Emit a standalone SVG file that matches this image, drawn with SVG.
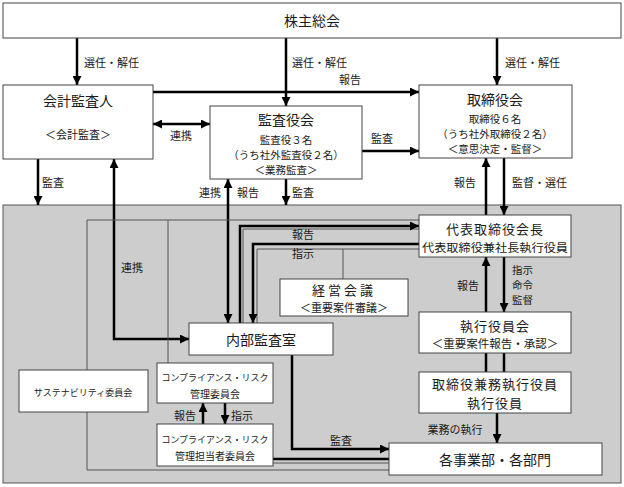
<svg xmlns="http://www.w3.org/2000/svg" width="624" height="487" viewBox="0 0 624 487">
<style>
text{font-family:"Noto Sans CJK JP","Noto Sans",sans-serif;fill:#1a1a1a;dominant-baseline:central}
.m{text-anchor:middle}
.s{text-anchor:start}
.t14{font-size:14px}
.t13{font-size:13px}
.t12{font-size:11.5px}
.t11{font-size:11px}
.t105{font-size:10.5px}
.t10{font-size:10px}
.t9{font-size:9px}
.box{fill:#fff;stroke:#444;stroke-width:1}
.thick{fill:none;stroke:#000;stroke-width:2.5}
.thin{fill:none;stroke:#555;stroke-width:1}
.a{marker-end:url(#ah)}
.b{marker-start:url(#ah);marker-end:url(#ah)}
</style>
<defs>
<marker id="ah" viewBox="0 0 10 10" refX="10" refY="5" markerWidth="9" markerHeight="9" markerUnits="userSpaceOnUse" orient="auto-start-reverse">
<path d="M0,0 L10,5 L0,10 z" fill="#000"/>
</marker>
</defs>
<rect x="3" y="205" width="618" height="278" fill="#cdcdcd" stroke="#555" stroke-width="1"/>
<g id="connectors">
<line class="thick a" x1="77" y1="38" x2="77" y2="85"/>
<line class="thick a" x1="286" y1="38" x2="286" y2="106"/>
<line class="thick a" x1="497" y1="38" x2="497" y2="85"/>
<line class="thick a" x1="153" y1="92" x2="419" y2="92"/>
<line class="thick b" x1="153" y1="124" x2="210" y2="124"/>
<line class="thick a" x1="362" y1="151" x2="419" y2="151"/>
<line class="thick a" x1="486" y1="215" x2="486" y2="158"/>
<line class="thick a" x1="504" y1="158" x2="504" y2="215"/>
<line class="thick a" x1="38" y1="159" x2="38" y2="205"/>
<line class="thick a" x1="286" y1="179" x2="286" y2="205"/>
<polyline class="thick b" points="114,159 114,339 189,339"/>
<line class="thick b" x1="228" y1="179" x2="228" y2="323"/>
<polyline class="thin" points="419,220 87,220 87,370"/>
<polyline class="thin" points="87,412 87,470 389,470"/>
<line class="thin" x1="168" y1="220" x2="168" y2="363"/>
<polyline class="thin" points="419,249 343,249 343,279"/>
<polyline class="thin" points="343,249 257,249 257,323"/>
<polyline class="thin" points="243,323 243,229 419,229"/>
<polyline class="thick a" points="240,323 240,226 419,226"/>
<polyline class="thick a" points="419,244 253,244 253,323"/>
<polyline class="thick a" points="292,355 292,449 389,449"/>
<line class="thick a" x1="486" y1="312" x2="486" y2="257"/>
<line class="thick a" x1="504" y1="257" x2="504" y2="312"/>
<line class="thick" x1="486" y1="353" x2="486" y2="372"/>
<line class="thick" x1="504" y1="353" x2="504" y2="372"/>
<line class="thick a" x1="497" y1="413" x2="497" y2="443"/>
<line class="thick a" x1="203" y1="424" x2="203" y2="403"/>
<line class="thick a" x1="225" y1="403" x2="225" y2="424"/>
<line class="thick" x1="273" y1="459" x2="389" y2="459"/>
<line class="thin" x1="273" y1="463" x2="389" y2="463"/>
</g>
<g id="labels">
<text class="s t11" x="84" y="62">選任・解任</text>
<text class="s t11" x="292" y="62">選任・解任</text>
<text class="s t11" x="505" y="62">選任・解任</text>
<text class="m t11" x="350" y="79">報告</text>
<text class="m t11" x="181" y="135">連携</text>
<text class="m t11" x="382" y="138">監査</text>
<text class="m t11" x="465" y="182">報告</text>
<text class="s t11" x="512" y="182">監督・選任</text>
<text class="m t11" x="53" y="182">監査</text>
<text class="m t11" x="210" y="192">連携</text>
<text class="m t11" x="248" y="192">報告</text>
<text class="m t11" x="303" y="192">監査</text>
<text class="m t11" x="132" y="267">連携</text>
<text class="m t11" x="303" y="234">報告</text>
<text class="m t11" x="303" y="253">指示</text>
<text class="m t11" x="468" y="285">報告</text>
<text class="s t105" x="512" y="269">指示</text>
<text class="s t105" x="512" y="284">命令</text>
<text class="s t105" x="512" y="299">監督</text>
<text class="m t11" x="455" y="429">業務の執行</text>
<text class="m t11" x="341" y="440">監査</text>
<text class="m t11" x="185" y="415">報告</text>
<text class="m t11" x="242" y="415">指示</text>
</g>
<g id="shareholders">
<rect class="box" x="3" y="3" width="618" height="35"/>
<text class="m t14" x="312" y="20">株主総会</text>
</g>
<g id="auditor">
<rect class="box" x="3" y="85" width="150" height="74"/>
<text class="m t14" x="78" y="100">会計監査人</text>
<text class="m t11" x="78" y="134">＜会計監査＞</text>
</g>
<g id="audit-board">
<rect class="box" x="210" y="106" width="152" height="73"/>
<text class="m t14" x="286" y="119">監査役会</text>
<text class="m t105" x="286" y="139">監査役３名</text>
<text class="m t105" x="286" y="154">（うち社外監査役２名）</text>
<text class="m t105" x="286" y="169">＜業務監査＞</text>
</g>
<g id="board">
<rect class="box" x="419" y="85" width="153" height="73"/>
<text class="m t14" x="495" y="99">取締役会</text>
<text class="m t105" x="495" y="118">取締役６名</text>
<text class="m t105" x="495" y="133">（うち社外取締役２名）</text>
<text class="m t105" x="495" y="148">＜意思決定・監督＞</text>
</g>
<g id="chairman">
<rect class="box" x="419" y="215" width="152" height="42"/>
<text class="m t13" x="495" y="228" letter-spacing="1">代表取締役会長</text>
<text class="m t12" x="495" y="247" textLength="146" lengthAdjust="spacingAndGlyphs">代表取締役兼社長執行役員</text>
</g>
<g id="management-meeting">
<rect class="box" x="280" y="279" width="128" height="37"/>
<text class="m t13" x="344" y="289.5" letter-spacing="3">経営会議</text>
<text class="m t11" x="344" y="306.5">＜重要案件審議＞</text>
</g>
<g id="internal-audit">
<rect class="box" x="189" y="323" width="144" height="32"/>
<text class="m t14" x="261" y="339">内部監査室</text>
</g>
<g id="exec-committee">
<rect class="box" x="419" y="312" width="152" height="41"/>
<text class="m t13" x="495" y="325" letter-spacing="1">執行役員会</text>
<text class="m t12" x="495" y="343">＜重要案件報告・承認＞</text>
</g>
<g id="executives">
<rect class="box" x="419" y="372" width="152" height="41"/>
<text class="m t13" x="495" y="383" letter-spacing="1">取締役兼務執行役員</text>
<text class="m t13" x="495" y="402" letter-spacing="1">執行役員</text>
</g>
<g id="divisions">
<rect class="box" x="389" y="443" width="213" height="32"/>
<text class="m t14" x="495" y="459">各事業部・各部門</text>
</g>
<g id="sustainability">
<rect class="box" x="19" y="370" width="129" height="42"/>
<text class="m t9" x="83" y="392">サステナビリティ委員会</text>
</g>
<g id="compliance-committee">
<rect class="box" x="157" y="363" width="116" height="40"/>
<text class="m t9" x="215" y="377">コンプライアンス・リスク</text>
<text class="m t10" x="215" y="393">管理委員会</text>
</g>
<g id="compliance-officers">
<rect class="box" x="157" y="424" width="116" height="42"/>
<text class="m t9" x="215" y="439">コンプライアンス・リスク</text>
<text class="m t10" x="215" y="455">管理担当者委員会</text>
</g>
</svg>
